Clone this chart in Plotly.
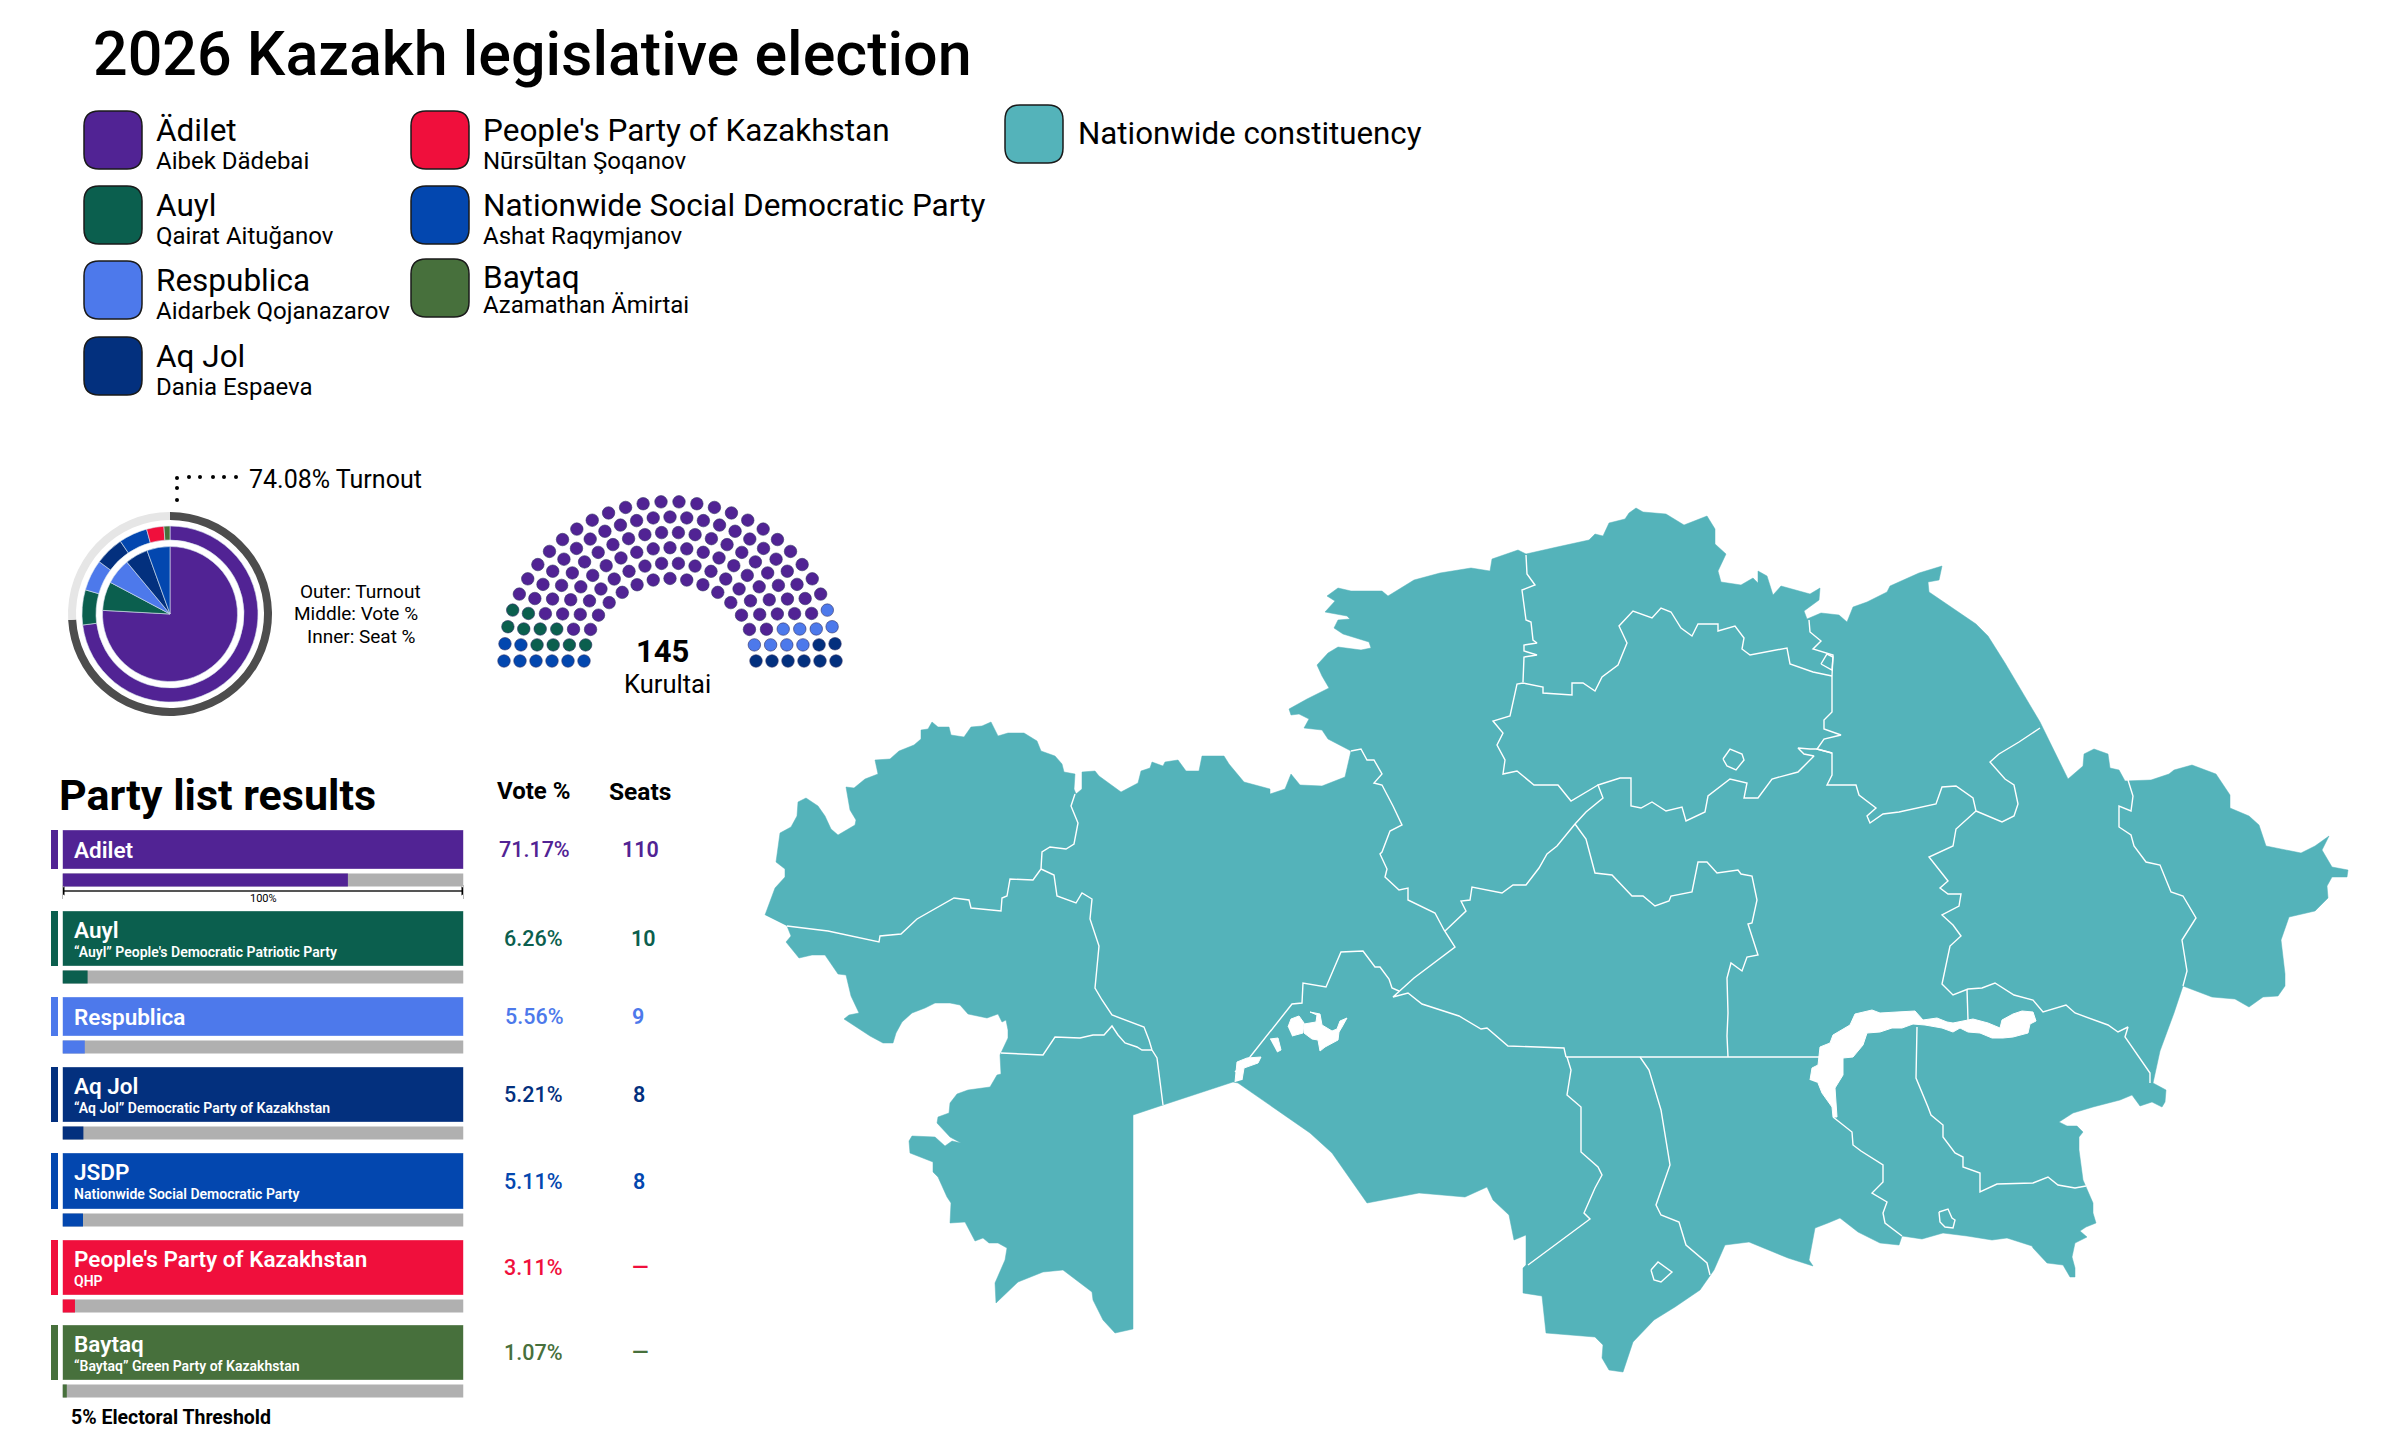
import numpy as np
import plotly.graph_objects as go

FONT = "Roboto"

# party data
party_names = ["Adilet", "Auyl", "Respublica", "Aq Jol", "JSDP", "People's Party of Kazakhstan", "Baytaq"]
party_subs = ["", "“Auyl” People's Democratic Patriotic Party", "", "“Aq Jol” Democratic Party of Kazakhstan",
              "Nationwide Social Democratic Party", "QHP", "“Baytaq” Green Party of Kazakhstan"]
party_colors = ["#512394", "#0B5F4E", "#4D79EB", "#03307E", "#0347AF", "#F00F3C", "#47703C"]
vote_pct = [71.17, 6.26, 5.56, 5.21, 5.11, 3.11, 1.07]
seats = [110, 10, 9, 8, 8, 0, 0]
turnout = [74.08, 25.92]
total_seats = 145
hemicycle_rows = [30, 29, 26, 23, 20, 17]

# legend
legend_names = ["Ädilet", "Auyl", "Respublica", "Aq Jol", "People's Party of Kazakhstan",
                "Nationwide Social Democratic Party", "Baytaq"]
legend_leaders = ["Aibek Dädebai", "Qairat Aituğanov", "Aidarbek Qojanazarov", "Dania Espaeva",
                  "Nūrsūltan Şoqanov", "Ashat Raqymjanov", "Azamathan Ämirtai"]
legend_colors = ["#512394", "#0B5F4E", "#4D79EB", "#03307E", "#F00F3C", "#0347AF", "#47703C"]
legend_x = [84, 84, 84, 84, 411, 411, 411]
legend_y = [111, 186, 261, 337, 111, 186, 259]
legend_name_dy = [19, 19, 19, 19, 19, 19, 18]
legend_leader_dy = [50, 50, 50, 50, 50, 50, 46]

# page positions of the result rows
row_top = [830, 911, 997, 1067, 1153, 1240, 1325]
row_bottom = [869, 966, 1036, 1122, 1209, 1295, 1380]
vote_text_x = [497, 502, 503, 502, 502, 502, 502]
seat_text_x = [640, 643, 638, 639, 639, 640, 640]

TEAL = "#54B3BA"

# map outline, traced in page pixels
map_outline = [
    (765, 915), (775, 888), (785, 877), (785, 869), (776, 862), (780, 833), (791, 827), (797, 816), (798, 802),
    (806, 798), (818, 806), (825, 816), (831, 829), (838, 835), (855, 825), (856, 820), (850, 810), (846, 787),
    (854, 788), (865, 779), (878, 774), (875, 760), (890, 759), (899, 751), (914, 745), (921, 739), (921, 730),
    (928, 729), (932, 722), (938, 727), (949, 727), (951, 735), (964, 737), (971, 727), (982, 726), (991, 722),
    (998, 736), (1008, 733), (1024, 733), (1037, 741), (1041, 751), (1055, 756), (1062, 764), (1064, 772),
    (1075, 774), (1074, 789), (1076, 794), (1082, 789), (1082, 772), (1095, 771), (1099, 776), (1121, 792),
    (1138, 783), (1141, 771), (1150, 768), (1152, 762), (1163, 766), (1165, 762), (1178, 760), (1186, 771),
    (1199, 771), (1202, 756), (1224, 756), (1229, 764), (1244, 782), (1270, 789), (1270, 794), (1285, 789),
    (1291, 774), (1300, 785), (1322, 786), (1345, 777), (1351, 751), (1328, 739), (1322, 730), (1304, 728),
    (1309, 719), (1299, 714), (1291, 715), (1289, 709), (1307, 699), (1329, 688), (1322, 676), (1317, 665),
    (1328, 653), (1338, 647), (1361, 650), (1371, 648), (1369, 642), (1356, 638), (1343, 634), (1334, 628),
    (1338, 620), (1350, 619), (1347, 616), (1325, 612), (1335, 601), (1327, 596), (1338, 588), (1351, 591),
    (1382, 591), (1388, 596), (1414, 580), (1440, 573), (1471, 568), (1490, 571), (1492, 559), (1518, 550),
    (1526, 554), (1557, 547), (1589, 540), (1595, 534), (1603, 536), (1609, 523), (1625, 519), (1629, 513),
    (1636, 508), (1643, 512), (1666, 514), (1684, 525), (1707, 516), (1715, 529), (1715, 544), (1726, 554),
    (1718, 571), (1721, 582), (1741, 585), (1753, 578), (1758, 583), (1758, 571), (1767, 576), (1773, 595),
    (1781, 586), (1810, 594), (1820, 588), (1819, 600), (1804, 611), (1807, 619), (1821, 613), (1839, 615),
    (1847, 622), (1853, 607), (1867, 602), (1887, 592), (1890, 586), (1919, 573), (1942, 566), (1939, 580),
    (1928, 582), (1929, 592), (1976, 624), (1988, 636), (2005, 663), (2040, 722), (2068, 779), (2083, 766),
    (2084, 754), (2094, 749), (2108, 754), (2110, 768), (2119, 770), (2125, 781), (2151, 780), (2169, 774),
    (2174, 770), (2192, 765), (2216, 774), (2230, 795), (2230, 808), (2249, 816), (2259, 825), (2266, 846),
    (2301, 853), (2315, 846), (2329, 836), (2322, 850), (2332, 867), (2348, 870), (2347, 877), (2332, 877),
    (2327, 886), (2328, 898), (2315, 911), (2289, 917), (2281, 940), (2285, 974), (2285, 986), (2278, 996),
    (2263, 997), (2249, 1007), (2235, 999), (2212, 997), (2183, 986), (2174, 1013), (2160, 1051), (2153, 1083),
    (2166, 1090), (2165, 1102), (2162, 1107), (2152, 1102), (2140, 1106), (2132, 1095), (2120, 1100),
    (2093, 1107), (2073, 1113), (2059, 1122), (2067, 1126), (2077, 1126), (2083, 1132), (2079, 1137),
    (2079, 1150), (2083, 1180), (2093, 1203), (2093, 1213), (2096, 1223), (2086, 1227), (2080, 1231),
    (2087, 1237), (2075, 1243), (2072, 1257), (2075, 1268), (2075, 1277), (2070, 1277), (2063, 1265),
    (2047, 1263), (2033, 1248), (2032, 1246), (2007, 1238), (1992, 1240), (1967, 1236), (1943, 1233),
    (1922, 1239), (1902, 1236), (1899, 1245), (1880, 1243), (1858, 1232), (1840, 1218), (1828, 1223),
    (1815, 1228), (1809, 1260), (1813, 1266), (1788, 1258), (1749, 1242), (1725, 1245), (1714, 1270),
    (1700, 1290), (1675, 1307), (1654, 1320), (1633, 1342), (1623, 1372), (1609, 1370), (1602, 1358),
    (1603, 1345), (1595, 1337), (1546, 1333), (1542, 1296), (1523, 1293), (1523, 1268), (1526, 1265),
    (1526, 1235), (1514, 1240), (1509, 1215), (1493, 1200), (1487, 1187), (1465, 1197), (1419, 1193),
    (1367, 1203), (1332, 1153), (1310, 1133), (1238, 1083), (1233, 1082), (1163, 1105), (1133, 1115),
    (1133, 1329), (1115, 1333), (1103, 1320), (1093, 1300), (1092, 1292), (1063, 1270), (1043, 1272),
    (1018, 1282), (996, 1303), (995, 1283), (1005, 1260), (1007, 1248), (998, 1243), (989, 1243), (983, 1238),
    (975, 1241), (965, 1222), (950, 1223), (951, 1203), (947, 1197), (938, 1177), (933, 1172), (933, 1162),
    (920, 1157), (910, 1153), (909, 1141), (912, 1136), (935, 1137), (945, 1146), (952, 1141), (961, 1143),
    (950, 1137), (937, 1123), (938, 1117), (949, 1113), (950, 1103), (957, 1094), (968, 1090), (990, 1087),
    (997, 1075), (1001, 1074), (1000, 1055), (1008, 1038), (1008, 1030), (1006, 1020), (1002, 1022), (998, 1014),
    (987, 1018), (968, 1014), (960, 1005), (950, 1003), (935, 1003), (925, 1008), (912, 1013), (902, 1022),
    (896, 1033), (893, 1043), (883, 1043), (870, 1036), (844, 1019), (849, 1015), (859, 1013), (851, 996),
    (846, 975), (838, 974), (825, 955), (812, 955), (799, 958), (786, 942), (791, 936), (787, 926),
]

# lakes drawn white on top of the outline
map_lakes = [
    [(1810, 1080), (1812, 1068), (1818, 1065), (1820, 1047), (1830, 1043), (1833, 1035), (1850, 1025), (1855, 1014),
     (1872, 1010), (1880, 1013), (1897, 1012), (1915, 1011), (1923, 1020), (1937, 1018), (1947, 1022), (1953, 1023),
     (1958, 1022), (1973, 1019), (1988, 1023), (2000, 1028), (2002, 1020), (2013, 1014), (2022, 1011), (2033, 1012),
     (2036, 1021), (2030, 1024), (2028, 1033), (2013, 1037), (2003, 1038), (1992, 1038), (1980, 1033), (1968, 1032),
     (1960, 1028), (1953, 1032), (1942, 1028), (1925, 1025), (1913, 1024), (1902, 1028), (1892, 1028), (1880, 1032),
     (1867, 1033), (1863, 1045), (1853, 1057), (1843, 1058), (1843, 1075), (1835, 1088), (1837, 1117), (1833, 1117),
     (1832, 1107), (1822, 1093), (1818, 1083)],
    [(1288, 1027), (1291, 1019), (1299, 1016), (1304, 1023), (1303, 1033), (1292, 1036)],
    [(1304, 1024), (1316, 1022), (1317, 1015), (1310, 1012), (1320, 1014), (1322, 1025), (1332, 1031), (1337, 1029),
     (1340, 1021), (1347, 1018), (1342, 1027), (1339, 1032), (1338, 1040), (1325, 1047), (1320, 1051), (1318, 1040),
     (1312, 1039), (1304, 1033)],
    [(1270, 1039), (1278, 1038), (1281, 1050), (1277, 1052)],
    [(1235, 1082), (1237, 1062), (1247, 1058), (1261, 1057), (1258, 1063), (1244, 1068), (1242, 1080)],
]

# region borders
map_borders = [
    [(787, 926), (828, 931), (879, 942), (880, 936), (901, 934), (917, 919), (954, 898), (969, 900), (971, 908),
     (1001, 911), (1002, 898), (1007, 896), (1010, 879), (1033, 880), (1041, 869), (1042, 852), (1050, 847),
     (1066, 849), (1074, 844), (1078, 823), (1071, 806), (1075, 794)],
    [(1041, 869), (1054, 875), (1057, 896), (1076, 903), (1082, 893), (1092, 899), (1090, 919), (1095, 934),
     (1099, 946), (1095, 988), (1102, 1000), (1112, 1015), (1144, 1027), (1149, 1040), (1152, 1050), (1157, 1058),
     (1163, 1105)],
    [(1001, 1053), (1043, 1055), (1055, 1037), (1080, 1038), (1093, 1035), (1104, 1035), (1112, 1026), (1118, 1035),
     (1125, 1043), (1137, 1047), (1142, 1050), (1152, 1050)],
    [(1351, 751), (1361, 749), (1367, 760), (1374, 760), (1382, 774), (1374, 783), (1382, 785), (1393, 806),
     (1402, 825), (1390, 831), (1382, 852), (1380, 854), (1387, 869), (1385, 877), (1399, 890), (1408, 888),
     (1408, 900), (1435, 913), (1444, 930), (1455, 947), (1414, 978), (1393, 997), (1408, 993), (1422, 1004),
     (1459, 1016), (1481, 1029), (1487, 1028), (1508, 1046), (1564, 1048), (1566, 1057)],
    [(1235, 1072), (1250, 1057), (1292, 1004), (1302, 1003), (1303, 983), (1326, 987), (1341, 952), (1363, 951),
     (1375, 967), (1380, 967), (1389, 979), (1392, 988), (1399, 991)],
    [(1445, 931), (1466, 911), (1461, 901), (1470, 900), (1472, 887), (1502, 893), (1513, 885), (1526, 885),
     (1539, 868), (1547, 854), (1557, 846), (1575, 824), (1586, 812), (1603, 798), (1598, 785), (1620, 778),
     (1631, 778), (1631, 806), (1641, 808), (1652, 802), (1666, 811), (1682, 807), (1686, 821), (1705, 812),
     (1708, 796), (1730, 779), (1747, 783), (1744, 798), (1758, 798), (1772, 779), (1798, 772), (1814, 756),
     (1804, 754), (1798, 748), (1810, 749), (1817, 749), (1832, 753)],
    [(1598, 785), (1571, 801), (1558, 785), (1534, 785), (1517, 771), (1503, 774), (1505, 760), (1497, 745),
     (1503, 733), (1493, 721), (1510, 716), (1517, 684), (1523, 683), (1543, 687), (1543, 693), (1572, 695),
     (1572, 683), (1583, 683), (1595, 691), (1602, 677), (1618, 665), (1627, 643), (1619, 626), (1633, 611),
     (1652, 618), (1661, 608), (1671, 612), (1681, 628), (1692, 636), (1698, 624), (1718, 624), (1718, 631),
     (1735, 626), (1744, 638), (1742, 649), (1750, 655), (1787, 648), (1790, 664), (1813, 672), (1832, 676)],
    [(1523, 682), (1524, 657), (1537, 655), (1524, 651), (1524, 645), (1537, 643), (1533, 640), (1531, 622),
     (1526, 620), (1522, 590), (1535, 585), (1527, 574), (1526, 555)],
    [(1832, 676), (1832, 712), (1824, 720), (1824, 729), (1841, 735), (1824, 739), (1817, 749), (1832, 753),
     (1832, 775), (1827, 785), (1856, 785), (1859, 795), (1876, 808), (1867, 816), (1870, 823), (1883, 814),
     (1899, 812), (1919, 808), (1936, 804), (1942, 787), (1956, 786), (1973, 798), (1976, 811)],
    [(1832, 676), (1833, 655), (1813, 649), (1821, 641), (1810, 632), (1809, 620)],
    [(1821, 664), (1827, 654), (1833, 657), (1832, 670), (1821, 664)],
    [(1723, 759), (1730, 749), (1742, 754), (1744, 760), (1736, 770), (1727, 766), (1723, 759)],
    [(2040, 728), (2019, 742), (1999, 754), (1990, 762), (2005, 779), (2014, 785), (2018, 804), (2014, 816),
     (2002, 822), (1976, 811)],
    [(1976, 811), (1956, 829), (1953, 846), (1929, 857), (1948, 881), (1940, 888), (1948, 894), (1961, 894),
     (1959, 906), (1942, 915), (1953, 925), (1961, 936), (1950, 946), (1942, 984), (1953, 995), (1968, 989),
     (1982, 988), (1995, 983), (2014, 995), (2033, 1000), (2043, 1012), (2066, 1005), (2075, 1013), (2108, 1025),
     (2118, 1032), (2128, 1027), (2125, 1037), (2150, 1073), (2150, 1083)],
    [(1967, 989), (1968, 1020)],
    [(2128, 780), (2133, 796), (2131, 811), (2119, 806), (2119, 827), (2131, 835), (2134, 846), (2146, 862),
     (2160, 865), (2171, 892), (2183, 896), (2196, 918), (2182, 940), (2187, 971), (2183, 986)],
    [(1575, 824), (1586, 839), (1595, 873), (1612, 875), (1632, 896), (1643, 896), (1655, 906), (1669, 901),
     (1671, 896), (1692, 892), (1698, 862), (1707, 862), (1717, 873), (1738, 870), (1741, 874), (1752, 876),
     (1757, 900), (1752, 923), (1748, 924), (1758, 955), (1747, 957), (1742, 971), (1731, 963), (1727, 978),
     (1728, 1013), (1727, 1036), (1728, 1057)],
    [(1566, 1057), (1822, 1057)],
    [(1567, 1057), (1571, 1070), (1567, 1095), (1581, 1107), (1581, 1152), (1598, 1167), (1602, 1175), (1595, 1188),
     (1584, 1213), (1590, 1219), (1528, 1265)],
    [(1640, 1057), (1649, 1070), (1661, 1110), (1670, 1165), (1656, 1205), (1661, 1215), (1679, 1222), (1686, 1245),
     (1707, 1263), (1710, 1275)],
    [(1833, 1117), (1852, 1132), (1853, 1145), (1861, 1151), (1883, 1165), (1883, 1182), (1872, 1193), (1887, 1202),
     (1883, 1213), (1885, 1223), (1902, 1236)],
    [(1917, 1027), (1916, 1078), (1928, 1107), (1931, 1115), (1943, 1125), (1943, 1137), (1955, 1153), (1963, 1157),
     (1963, 1167), (1980, 1173), (1980, 1192), (1997, 1184), (2033, 1183), (2048, 1177), (2058, 1185), (2075, 1188),
     (2086, 1186)],
    [(1939, 1212), (1948, 1209), (1952, 1218), (1955, 1220), (1953, 1228), (1945, 1227), (1940, 1222), (1939, 1212)],
    [(1651, 1270), (1658, 1262), (1672, 1272), (1661, 1282), (1654, 1280), (1651, 1270)],
]


def pie_domain(cx, cy, r):
    return dict(x=[(cx - r) / 2400, (cx + r) / 2400], y=[1 - (cy + r) / 1455, 1 - (cy - r) / 1455])


def note(text, x, y, size, color="black", anchor="left", weight=400):
    return dict(text=text, x=x, y=y, xref="x", yref="y", xanchor=anchor, yanchor="middle", showarrow=False,
                font=dict(family=FONT, size=size, color=color, weight=weight))


def round_box(x0, y0, x1, y1, r):
    return (f"M{x0+r},{y0} L{x1-r},{y0} Q{x1},{y0} {x1},{y0+r} L{x1},{y1-r} Q{x1},{y1} {x1-r},{y1} "
            f"L{x0+r},{y1} Q{x0},{y1} {x0},{y1-r} L{x0},{y0+r} Q{x0},{y0} {x0+r},{y0} Z")


fig = go.Figure()
annotations = []
shapes = []

# map
fig.add_trace(go.Scatter(x=[p[0] for p in map_outline], y=[p[1] for p in map_outline], mode="lines",
                         fill="toself", fillcolor=TEAL, line=dict(color=TEAL, width=0.5), hoverinfo="skip"))
border_x, border_y = [], []
for b in map_borders:
    border_x += [p[0] for p in b] + [None]
    border_y += [p[1] for p in b] + [None]
fig.add_trace(go.Scatter(x=border_x, y=border_y, mode="lines", line=dict(color="white", width=1.4), hoverinfo="skip"))
for lake in map_lakes:
    fig.add_trace(go.Scatter(x=[p[0] for p in lake], y=[p[1] for p in lake], mode="lines", fill="toself",
                             fillcolor="white", line=dict(color="white", width=1), hoverinfo="skip"))

# nested pies
fig.add_trace(go.Pie(values=turnout, sort=False, direction="clockwise", rotation=0, textinfo="none", hole=94 / 102,
                     domain=pie_domain(170, 614, 102), marker=dict(colors=["#4D4D4D", "#E6E6E6"]), showlegend=False))
fig.add_trace(go.Pie(values=vote_pct, sort=False, direction="clockwise", rotation=0, textinfo="none", hole=74 / 88,
                     domain=pie_domain(170, 614, 88), showlegend=False,
                     marker=dict(colors=party_colors, line=dict(color="#D8E4EE", width=0.6))))
fig.add_trace(go.Pie(values=seats[:5], sort=False, direction="clockwise", rotation=0, textinfo="none",
                     domain=pie_domain(170, 614, 67.5), showlegend=False,
                     marker=dict(colors=party_colors[:5], line=dict(color="#D8E4EE", width=0.6))))

# turnout leader
leader_x = [177, 177, 177, 189, 200, 213, 224, 236]
leader_y = [500, 488, 478, 477, 477, 477, 477, 477]
fig.add_trace(go.Scatter(x=leader_x, y=leader_y, mode="markers", hoverinfo="skip",
                         marker=dict(size=4, color="black")))

# hemicycle, seats go to parties by angle
cx, cy = 670, 661
radii = [166, 150, 134, 118, 102, 86]
dots = []
for i, (n, r) in enumerate(zip(hemicycle_rows, radii)):
    for j in range(n):
        dots.append((np.pi * j / (n - 1), r, i))
left = sorted(dots, key=lambda d: d[0] + 0.003 * d[2], reverse=False)
right = sorted(dots, key=lambda d: d[0], reverse=True)
# theta 0 is the left end here
dot_color = {}
k = 0
for party, n in [(4, seats[4]), (1, seats[1])]:
    for d in left[k:k + n]:
        dot_color[d] = party
    k += n
k = 0
for party, n in [(3, seats[3]), (2, seats[2])]:
    for d in right[k:k + n]:
        dot_color[d] = party
    k += n
hx = [cx - d[1] * np.cos(d[0]) for d in dots]
hy = [cy - 0.96 * d[1] * np.sin(d[0]) for d in dots]
hc = [party_colors[dot_color.get(d, 0)] for d in dots]
fig.add_trace(go.Scatter(x=hx, y=hy, mode="markers", hoverinfo="skip",
                         marker=dict(size=12.5, color=hc, line=dict(color="#333366", width=0.6))))

# result rows: gray track and vote share on a 0-100 axis
row_mid = [(a + b) / 2 for a, b in zip(row_top, row_bottom)]
track_mid = [b + 11 for b in row_bottom]
fig.add_trace(go.Bar(x=[100] * 7, y=row_mid, width=[b - a for a, b in zip(row_top, row_bottom)], orientation="h",
                     xaxis="x2", yaxis="y", hoverinfo="skip",
                     marker=dict(color=party_colors, line=dict(color="rgba(255,255,255,0.35)", width=1))))
fig.add_trace(go.Bar(x=[100] * 7, y=track_mid, width=13, orientation="h", xaxis="x2", yaxis="y", hoverinfo="skip",
                     marker=dict(color="#B0B0B0", line=dict(width=0))))
fig.add_trace(go.Bar(x=vote_pct, y=track_mid, width=13, orientation="h", xaxis="x2", yaxis="y", hoverinfo="skip",
                     marker=dict(color=party_colors, line=dict(width=0))))

# 100% span under the first row
fig.add_trace(go.Scatter(x=[0, 100], y=[891, 891], mode="lines+markers", xaxis="x2", yaxis="y", hoverinfo="skip",
                         line=dict(color="#555555", width=2),
                         marker=dict(symbol=["triangle-left", "triangle-right"], size=8, color="black")))
for x in [62.5, 463.5]:
    shapes.append(dict(type="line", xref="x", yref="y", x0=x, x1=x, y0=885, y1=899,
                       line=dict(color="#BBBBBB", width=1)))
annotations.append(note("100%", 263, 898, 11, anchor="center"))

for i in range(7):
    shapes.append(dict(type="rect", xref="x", yref="y", x0=51, x1=58, y0=row_top[i], y1=row_bottom[i],
                       fillcolor=party_colors[i], line=dict(width=0)))
    if party_subs[i]:
        annotations.append(note(party_names[i], 71.5, row_top[i] + 18.5, 22.5, "white", weight=600))
        annotations.append(note(party_subs[i], 71.5, row_top[i] + 41, 14, "white", weight=600))
    else:
        annotations.append(note(party_names[i], 71.5, row_mid[i], 22.5, "white", weight=600))
    annotations.append(note(f"{vote_pct[i]:.2f}%", vote_text_x[i], row_mid[i], 21.5, party_colors[i], weight=500))
    seat_text = str(seats[i]) if seats[i] else "—"
    annotations.append(note(seat_text, seat_text_x[i], row_mid[i], 21.5, party_colors[i], "center", 600))

# legend swatches and names
for i in range(7):
    x0, y0 = legend_x[i], legend_y[i]
    shapes.append(dict(type="path", xref="x", yref="y", path=round_box(x0, y0, x0 + 58, y0 + 58, 15),
                       fillcolor=legend_colors[i], line=dict(color="#1A1A1A", width=1.5)))
    annotations.append(note(legend_names[i], x0 + 70, y0 + legend_name_dy[i], 31.5))
    annotations.append(note(legend_leaders[i], x0 + 70, y0 + legend_leader_dy[i], 24))
shapes.append(dict(type="path", xref="x", yref="y", path=round_box(1005, 105, 1063, 163, 15),
                   fillcolor=TEAL, line=dict(color="#1A1A1A", width=1.5)))
annotations.append(note("Nationwide constituency", 1076, 133, 31.3))

# titles and labels
annotations += [
    note("2026 Kazakh legislative election", 91, 54, 61, weight=500),
    note("74.08% Turnout", 247, 479, 25),
    note("Outer: Turnout", 360, 591, 19, anchor="center"),
    note("Middle: Vote %", 356, 613, 19, anchor="center"),
    note("Inner: Seat %", 361, 636, 19, anchor="center"),
    note(str(total_seats), 662, 651, 31, anchor="center", weight=700),
    note("Kurultai", 667, 684, 25.5, anchor="center"),
    note("Party list results", 57, 795, 43, weight=700),
    note("Vote %", 533, 791, 24, anchor="center", weight=700),
    note("Seats", 640, 791, 24.5, anchor="center", weight=700),
    note("5% Electoral Threshold", 69, 1417, 19.5, weight=700),
]

fig.update_layout(
    width=2400, height=1455, margin=dict(l=0, r=0, t=0, b=0), paper_bgcolor="white", plot_bgcolor="rgba(0,0,0,0)",
    showlegend=False, barmode="overlay", annotations=annotations, shapes=shapes,
    xaxis=dict(domain=[0, 1], range=[0, 2400], visible=False, fixedrange=True),
    yaxis=dict(domain=[0, 1], range=[1455, 0], visible=False, fixedrange=True),
    xaxis2=dict(domain=[62.5 / 2400, 463.5 / 2400], range=[0, 100], visible=False, anchor="y", fixedrange=True),
)

fig.write_html("out.html", config=dict(displayModeBar=False), post_script="document.body.style.margin='0';")
